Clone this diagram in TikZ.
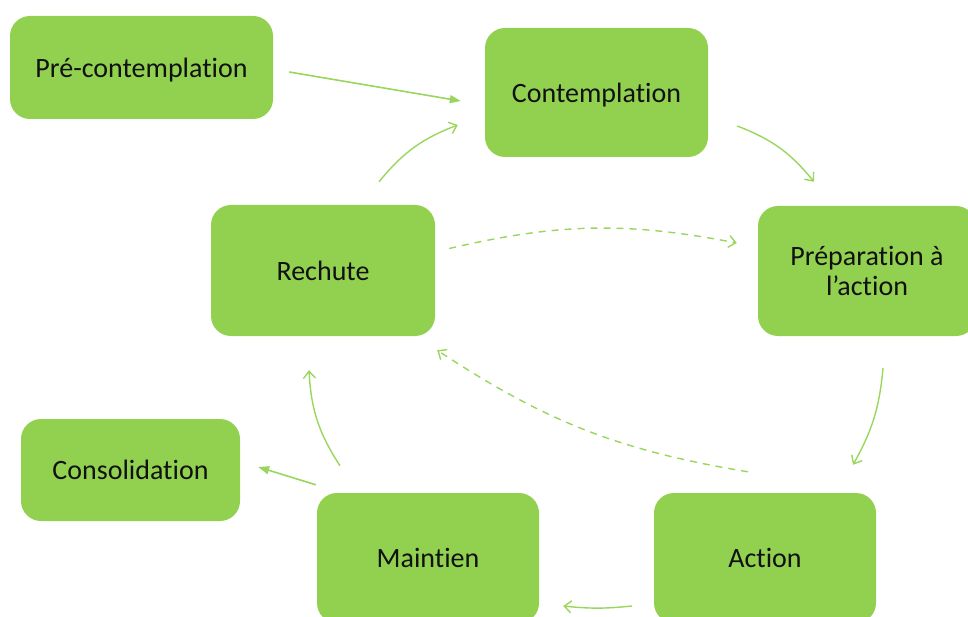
\documentclass[tikz,border=0pt]{standalone}
\usepackage{fontspec}
\setmainfont{Carlito}[Ligatures=NoCommon]
\usepackage[HTML]{xcolor}
\usetikzlibrary{positioning, calc, arrows.meta}
\definecolor{stagegreen}{HTML}{92D050}
\definecolor{linkgreen}{HTML}{9AD65E}
\definecolor{stagetext}{HTML}{111111}
\begin{document}
\begin{tikzpicture}[x=1pt,y=1pt,
  stage/.style={rectangle, rounded corners=20pt, fill=stagegreen, text=stagetext,
    align=center, font=\fontsize{28}{30}\selectfont, inner sep=0pt, text depth=0pt},
  link/.style={linkgreen, line width=1.4pt, -{Straight Barb[length=7pt,width=12pt]}},
  push/.style={linkgreen, line width=1.6pt, -{Triangle[length=11pt,width=8pt]}},
  back/.style={link, dash pattern=on 7pt off 6pt}]
\useasboundingbox (0,0) rectangle (968,-617);
\clip (0,0) rectangle (968,-617);
% stages
\node[stage, minimum width=263pt, minimum height=103pt] (pre) at (141.5,-67.5) {Pré-contemplation};
\node[stage, minimum width=223pt, minimum height=129pt] (cont) at (596.5,-92.5) {Contemplation};
\node[stage, minimum width=218pt, minimum height=130pt] (prep) at (867,-271) {Préparation à\\l’action};
\node[stage, minimum width=224pt, minimum height=131pt] (rech) at (323,-270.5) {Rechute};
\node[stage, minimum width=219pt, minimum height=102pt] (cons) at (130.5,-470) {Consolidation};
\node[stage, minimum width=222pt, minimum height=130pt] (main) at (428,-558) {Maintien};
\node[stage, minimum width=222pt, minimum height=130pt] (act) at (765,-558) {Action};
% cycle
\draw[push] ($(pre.east)+(16,-4.5)$) -- ($(cont.west)+(-24,-8.5)$);
\draw[link] ($(rech.north)+(56,23)$) to[bend left=15] ($(cont.west)+(-27,-32.5)$);
\draw[link] ($(cont.east)+(29,-33.5)$) to[bend left=15] ($(prep.north)+(-53,24)$);
\draw[link] ($(prep.south)+(16,-32)$) to[bend left=12] ($(act.north)+(88,28)$);
\draw[link] ($(act.west)+(-22,-48)$) to[bend left=6] ($(main.east)+(24,-48)$);
\draw[link] ($(main.north)+(-88,27)$) to[bend left=15] ($(rech.south)+(-14,-34)$);
\draw[push] ($(main.north west)+(-1,8)$) -- ($(cons.east)+(18,3)$);
% relapse paths
\draw[back] ($(rech.east)+(14,22)$) to[bend left=12] ($(prep.west)+(-21,28)$);
\draw[back] ($(act.north)+(-17,21)$) to[bend left=12] ($(rech.south east)+(2,-14)$);
\end{tikzpicture}
\end{document}
